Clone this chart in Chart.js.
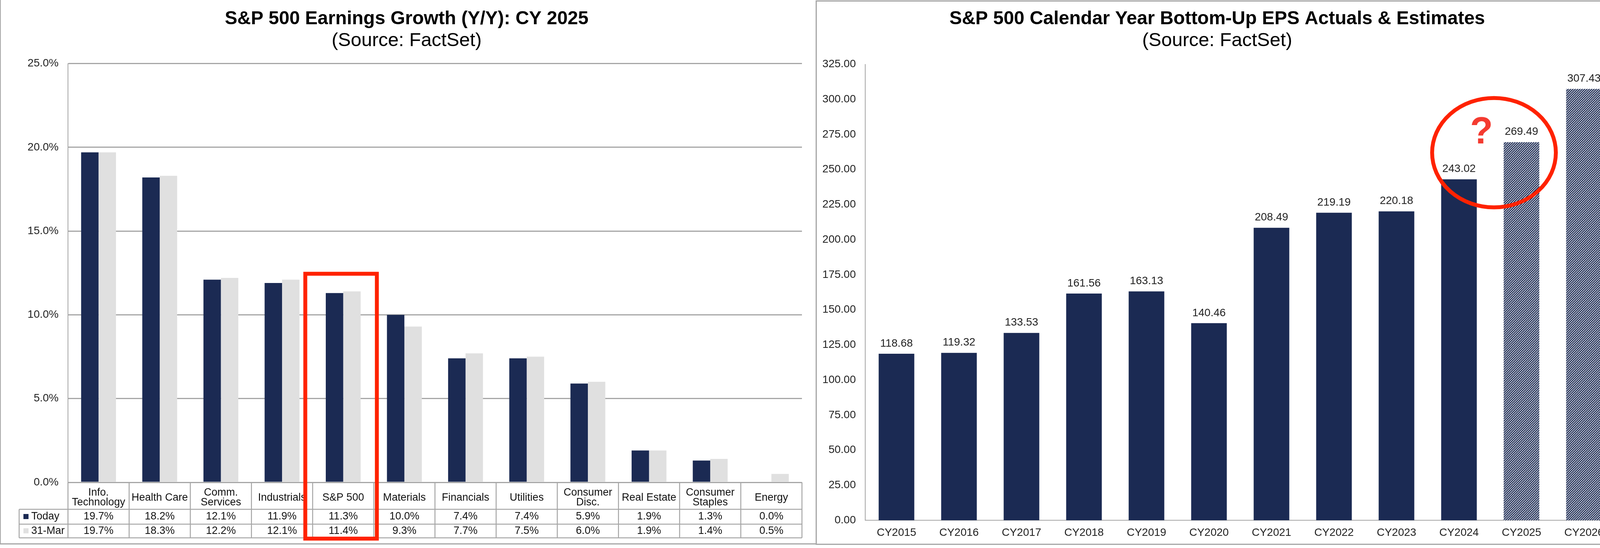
<!DOCTYPE html>
<html>
<head>
<meta charset="utf-8">
<script src="https://cdn.jsdelivr.net/npm/chart.js@4.4.1/dist/chart.umd.min.js"></script>
<style>
html, body { margin: 0; padding: 0; background: #fff; }
#page { position: relative; width: 4170px; height: 1402px; overflow: hidden; }
.frame { position: absolute; box-sizing: border-box; }
#leftFrame { left: 0; top: 0; width: 2091px; height: 1393px; border-left: 2px solid #a6a6a6; border-bottom: 3px solid #a6a6a6; }
#rightFrame { left: 2088px; top: 1px; width: 2080px; height: 1393px; border: 3px solid #a6a6a6; }
canvas { position: absolute; top: 0; }
#growth { left: 0; }
#eps { left: 2089px; }
</style>
</head>
<body>
<div id="page">
  <div class="frame" id="leftFrame"></div>
  <div class="frame" id="rightFrame"></div>
  <canvas id="growth" width="2089" height="1402"></canvas>
  <canvas id="eps" width="2081" height="1402"></canvas>
</div>
<script>
// ---- data: earnings growth by sector, CY 2025 ----
const sectors = [['Info.', 'Technology'], 'Health Care', ['Comm.', 'Services'], 'Industrials', 'S&P 500',
  'Materials', 'Financials', 'Utilities', ['Consumer', 'Disc.'], 'Real Estate', ['Consumer', 'Staples'], 'Energy'];
const growthToday = [19.7, 18.2, 12.1, 11.9, 11.3, 10.0, 7.4, 7.4, 5.9, 1.9, 1.3, 0.0];
const growthMar31 = [19.7, 18.3, 12.2, 12.1, 11.4, 9.3, 7.7, 7.5, 6.0, 1.9, 1.4, 0.5];
const growthSeries = ['Today', '31-Mar'];
const growthTicks = [0, 5, 10, 15, 20, 25];

// ---- data: calendar year bottom-up EPS ----
const epsYears = ['CY2015', 'CY2016', 'CY2017', 'CY2018', 'CY2019', 'CY2020',
  'CY2021', 'CY2022', 'CY2023', 'CY2024', 'CY2025', 'CY2026'];
const epsValues = [118.68, 119.32, 133.53, 161.56, 163.13, 140.46, 208.49, 219.19, 220.18, 243.02, 269.49, 307.43];
const epsEstimateYears = ['CY2025', 'CY2026'];
const epsTicks = [0, 25, 50, 75, 100, 125, 150, 175, 200, 225, 250, 275, 300, 325];

const FONT = '"Liberation Sans", Arial, sans-serif';
const NAVY = '#1b2a53';
const LIGHT = '#e0e0e0';
const RED = '#ff2200';
const RULE = '#a6a6a6';

Chart.defaults.font.family = FONT;
Chart.defaults.color = '#111';

function hatch() {
  const n = 6;
  const c = document.createElement('canvas');
  c.width = n; c.height = n;
  const g = c.getContext('2d');
  g.fillStyle = '#fff';
  g.fillRect(0, 0, n, n);
  g.strokeStyle = NAVY;
  g.lineWidth = 2.7;
  g.beginPath();
  g.moveTo(-1, n + 1); g.lineTo(n + 1, -1);
  g.moveTo(-1, 1); g.lineTo(1, -1);
  g.moveTo(n - 1, n + 1); g.lineTo(n + 1, n - 1);
  g.stroke();
  return g.createPattern(c, 'repeat');
}

function line(ctx, x1, y1, x2, y2) {
  ctx.beginPath();
  ctx.moveTo(x1, y1);
  ctx.lineTo(x2, y2);
  ctx.stroke();
}

// data table under the growth chart + red highlight box on S&P 500
const growthTable = {
  id: 'growthTable',
  afterDraw(chart) {
    const { ctx, chartArea, scales: { x } } = chart;
    const top = chartArea.bottom;
    const r1 = top + 69, r2 = r1 + 38, bottom = r2 + 35;
    const keyLeft = 49;
    ctx.save();
    ctx.strokeStyle = RULE;
    ctx.lineWidth = 2.5;
    [r1, r2, bottom].forEach(y => line(ctx, keyLeft, y, chartArea.right, y));
    for (let i = 0; i <= sectors.length; i++) {
      const px = x.getPixelForValue(i - 0.5);
      line(ctx, px, top, px, bottom);
    }
    line(ctx, keyLeft, r1, keyLeft, bottom);

    ctx.font = '27px ' + FONT;
    ctx.fillStyle = '#111';
    ctx.textAlign = 'center';
    ctx.textBaseline = 'middle';
    const rows = [[growthToday, (r1 + r2) / 2], [growthMar31, (r2 + bottom) / 2]];
    rows.forEach(([vals, cy]) => {
      vals.forEach((v, i) => ctx.fillText(v.toFixed(1) + '%', x.getPixelForValue(i), cy));
    });
    ctx.textAlign = 'left';
    [NAVY, LIGHT].forEach((col, k) => {
      const cy = rows[k][1];
      ctx.fillStyle = col;
      ctx.fillRect(keyLeft + 11, cy - 7, 13, 13);
      ctx.fillStyle = '#111';
      ctx.fillText(growthSeries[k], keyLeft + 31, cy);
    });

    // highlight box
    const yS = chart.scales.y;
    const bx1 = x.getPixelForValue(3.38), bx2 = x.getPixelForValue(4.55);
    const by1 = yS.getPixelForValue(12.45);
    ctx.strokeStyle = RED;
    ctx.lineWidth = 10;
    ctx.strokeRect(bx1, by1, bx2 - bx1, bottom + 2 - by1);
    ctx.restore();
  }
};

new Chart(document.getElementById('growth'), {
  type: 'bar',
  data: {
    labels: sectors,
    datasets: [
      { label: growthSeries[0], data: growthToday, backgroundColor: NAVY },
      { label: growthSeries[1], data: growthMar31, backgroundColor: LIGHT }
    ]
  },
  options: {
    responsive: false,
    animation: false,
    devicePixelRatio: 1,
    layout: { padding: { left: 29, right: 36, top: 0, bottom: 0 } },
    datasets: { bar: { categoryPercentage: 0.57, barPercentage: 1 } },
    plugins: {
      legend: { display: false },
      tooltip: { enabled: false },
      title: { display: true, text: 'S&P 500 Earnings Growth (Y/Y): CY 2025', color: '#000',
        font: { size: 48, weight: 'bold' }, padding: { top: 20, bottom: 0 } },
      subtitle: { display: true, text: '(Source: FactSet)', color: '#000',
        font: { size: 49, lineHeight: 1.1 }, padding: { top: 0, bottom: 31 } }
    },
    scales: {
      x: {
        grid: { display: false, drawTicks: false },
        border: { display: false },
        ticks: { font: { size: 27, lineHeight: 0.9 }, padding: 27, crossAlign: 'center', maxRotation: 0, autoSkip: false, color: '#111' },
        afterFit: s => { s.height = 168; }
      },
      y: {
        min: 0, max: 25,
        afterBuildTicks: s => { s.ticks = growthTicks.map(v => ({ value: v })); },
        grid: { color: RULE, lineWidth: 3, drawTicks: false },
        border: { color: RULE, width: 2 },
        ticks: { font: { size: 28 }, padding: 24, color: '#222', callback: v => v.toFixed(1) + '%' },
        afterFit: s => { s.width = 145; }
      }
    }
  },
  plugins: [growthTable]
});

// value labels + red circle with question mark on the EPS chart
const epsMarks = {
  id: 'epsMarks',
  afterDraw(chart) {
    const { ctx, scales: { x, y } } = chart;
    const meta = chart.getDatasetMeta(0);
    ctx.save();
    ctx.font = '28px ' + FONT;
    ctx.fillStyle = '#222';
    ctx.textAlign = 'center';
    ctx.textBaseline = 'middle';
    meta.data.forEach((bar, i) => ctx.fillText(epsValues[i].toFixed(2), bar.x, bar.y - 26));

    const cx = x.getPixelForValue(9.56), cy = y.getPixelForValue(262);
    const rx = x.getPixelForValue(10.55) - cx, ry = cy - y.getPixelForValue(301);
    ctx.strokeStyle = RED;
    ctx.lineWidth = 10;
    ctx.beginPath();
    ctx.ellipse(cx, cy, rx, ry, 0, 0, Math.PI * 2);
    ctx.stroke();

    ctx.fillStyle = '#f43b30';
    ctx.font = 'bold 96px ' + FONT;
    ctx.fillText('?', x.getPixelForValue(9.36), y.getPixelForValue(276));
    ctx.restore();
  }
};

const pattern = hatch();
new Chart(document.getElementById('eps'), {
  type: 'bar',
  data: {
    labels: epsYears,
    datasets: [{
      label: 'EPS',
      data: epsValues,
      backgroundColor: epsYears.map(yr => epsEstimateYears.includes(yr) ? pattern : NAVY)
    }]
  },
  options: {
    responsive: false,
    animation: false,
    devicePixelRatio: 1,
    layout: { padding: { left: 8, right: 35, top: 0, bottom: 0 } },
    datasets: { bar: { categoryPercentage: 0.57, barPercentage: 1 } },
    plugins: {
      legend: { display: false },
      tooltip: { enabled: false },
      title: { display: true, text: 'S&P 500 Calendar Year Bottom-Up EPS Actuals & Estimates', color: '#000',
        font: { size: 48, weight: 'bold' }, padding: { top: 20, bottom: 0 } },
      subtitle: { display: true, text: '(Source: FactSet)', color: '#000',
        font: { size: 49, lineHeight: 1.1 }, padding: { top: 0, bottom: 33 } }
    },
    scales: {
      x: {
        grid: { display: false, drawTicks: false },
        border: { color: RULE, width: 2 },
        ticks: { font: { size: 28 }, padding: 15, color: '#222', maxRotation: 0, autoSkip: false },
        afterFit: s => { s.height = 71; }
      },
      y: {
        min: 0, max: 325,
        afterBuildTicks: s => { s.ticks = epsTicks.map(v => ({ value: v })); },
        grid: { display: false, drawTicks: false },
        border: { color: RULE, width: 2 },
        ticks: { font: { size: 28 }, padding: 24, color: '#222', callback: v => v.toFixed(2) },
        afterFit: s => { s.width = 118; }
      }
    }
  },
  plugins: [epsMarks]
});
</script>
</body>
</html>
